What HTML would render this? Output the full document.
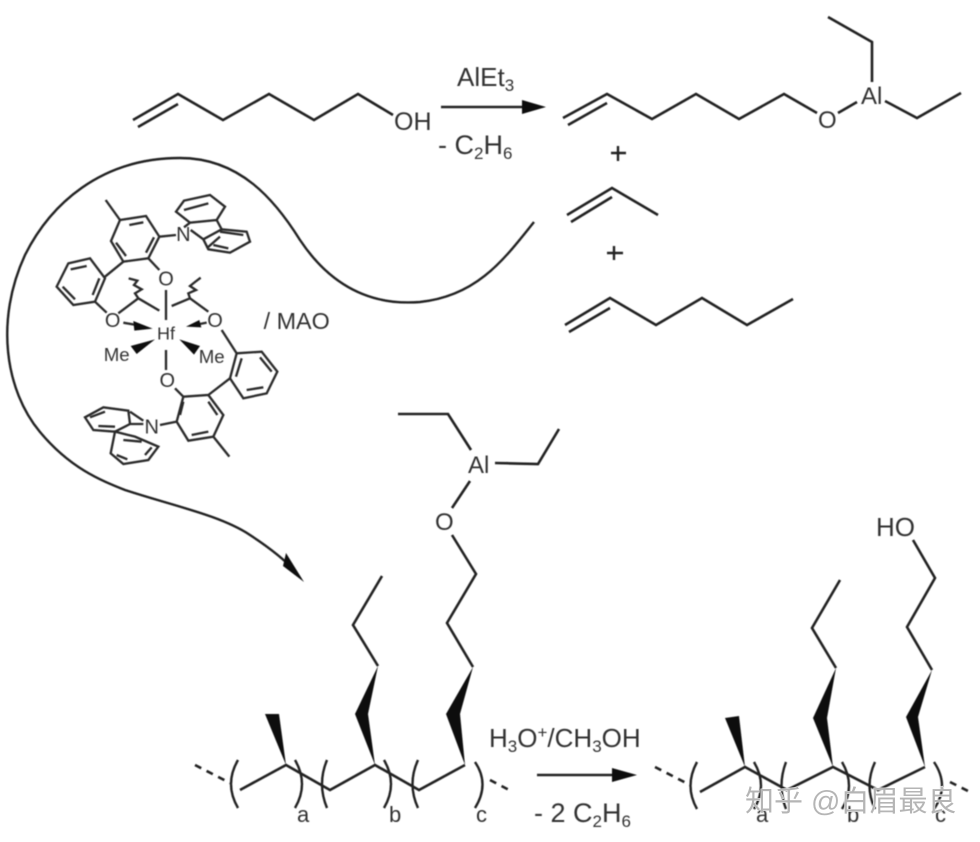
<!DOCTYPE html>
<html><head><meta charset="utf-8"><style>
html,body{margin:0;padding:0;background:#fff}
svg{display:block;font-family:"Liberation Sans",sans-serif}
text{fill:#333}
</style></head><body>
<svg width="980" height="842" viewBox="0 0 980 842" xmlns="http://www.w3.org/2000/svg">
<defs><filter id="b" x="-5%" y="-5%" width="110%" height="110%"><feGaussianBlur stdDeviation="0.5"/></filter></defs>
<rect width="980" height="842" fill="#fff"/>
<g filter="url(#b)">
<g fill="none" stroke="#222" stroke-width="2.6" stroke-linejoin="miter">
<!-- hexenol -->
<path d="M133 120L178 94L223 120L269 94L314 120L358 94L393 115M138 127L178 104"/>
<!-- top product -->
<path d="M563 118L607 94L652 119L696 94L739 119L784 94L817 113M568 125L607 103M838 113L857 102M872 82L872 42L828 17M885 101L917 118L961 93"/>
<!-- propene, hexene -->
<path d="M567 215L612 188L658 215M571 222L612 197"/>
<path d="M565 325L610 298L656 325L702 298L747 325L793 299M569 332L610 308"/>
<!-- arrows -->
<path d="M441 107H522M537 775H615" stroke-width="2.4"/>
<!-- plus -->
<path d="M611 153H626M618 146V161M607 253H623M614 246V260" stroke-width="2.4"/>
<!-- big curve -->
<path d="M534 222C505 258 478 296 420 302C370 306 330 285 300 240C275 200 240 158 180 158C100 158 50 205 25 255C-5 320 5 390 40 432C70 468 100 480 125 490C170 505 220 515 250 535C270 548 285 560 296 572" stroke-width="2.4"/>
<!-- polymer 1 -->
<path d="M240 790L286 765L330 790L375 765L419 790L465 765"/>
<path d="M378 666L353 625L382 576M473 667L447 623L476 574L452 535M470 481L452 508M471 450L448 414H398M495 463L538 464L559 429"/>
<path d="M195 765L230 783M490 780L511 791" stroke-dasharray="7 6"/>
<path d="M238 760Q224 784 238 808M295 760Q309 784 295 808M327 760Q317 784 327 808M384 760Q398 784 384 808M418 760Q407 784 418 808M475 762Q490 784 475 808" stroke-width="2.4"/>
<!-- polymer 2 -->
<path d="M700 792L745 767L787 790L833 767L878 790L925 767"/>
<path d="M836 668L812 628L840 580M932 670L907 627L935 578L913 540"/>
<path d="M655 767L690 785M950 782L970 792" stroke-dasharray="7 6"/>
<path d="M697 762Q684 786 697 809M754 762Q768 786 754 809M786 762Q777 786 786 809M842 762Q856 786 842 809M875 762Q864 786 875 809M934 762Q950 786 934 809" stroke-width="2.4"/>
</g>
<g fill="#111">
<path d="M522 100L546 107L522 114ZM612 768L637 775L612 782Z"/>
<path d="M286 553L304 582L283 566Z"/>
<path d="M286 765L265 714L279 714ZM375 765L355 714L378 666L368 714ZM465 765L446 714L473 667L460 714Z"/>
<path d="M745 767L725 718L739 716ZM833 767L813 718L836 668L827 718ZM925 767L906 717L932 670L918 717Z"/>
</g>
<!-- catalyst -->
<g transform="translate(40,180) scale(.33333)">
<g fill="none" stroke="#2a2a2a" stroke-width="7">
<path d="M240 120L318 108L358 170L325 235L250 245L213 183ZM240 120L197 60M268 135L310 127M342 172L318 218M228 188L258 228M358 170L408 165M325 235L358 270M378 330V420"/>
<path d="M408 95L432 62L510 45L555 80L530 120L450 128ZM432 90L505 70M450 128L432 142M530 120L545 148M452 150L490 178M490 178L545 148L620 155L630 185L570 218L505 208ZM500 205L540 170M520 195L565 205M540 155L610 165"/>
<path d="M150 235L85 250L50 320L100 375L165 365L195 295ZM250 245L195 290M92 268L140 258M68 320L105 358M178 295L158 345M165 365L200 398"/>
<path d="M235 400L295 355L358 392M395 378L450 355L505 395M295 355L285 340L305 328L282 315L292 302L266 295M450 355L445 340L468 330L450 318L465 306L482 293"/>
<path d="M250 428L295 436M500 428L470 434M378 510V570"/>
<path d="M430 650L505 645L550 705L520 770L445 782L410 725ZM405 625L430 650M430 665L420 705M505 665L532 705M455 765L505 755M520 770L568 830M410 725L360 735M505 645L570 595M590 520L665 515L712 575L680 640L610 655L570 595ZM545 450L590 520M588 590L605 535M620 630L670 622M695 575L660 532"/>
<path d="M135 712L190 682L265 692L270 732L225 755L160 750ZM150 712L195 695M175 738L225 740M310 722L270 695M270 732L310 732M225 755L285 770L355 800L325 840L250 852L212 820ZM250 780L305 785M335 802L315 825M230 825L262 838"/>
</g>
<g fill="#111">
<path d="M338 446L280 423L283 452ZM438 440L478 420L484 442Z"/>
<path d="M345 478L272 498L290 522ZM418 478L480 498L462 524Z"/>
</g>
<g font-size="60" text-anchor="middle" style="fill:#333">
<text x="378" y="316">O</text><text x="218" y="441">O</text><text x="525" y="441">O</text><text x="382" y="621">O</text>
<text x="430" y="183">N</text><text x="335" y="761">N</text>
<text x="378" y="478" font-size="54">Hf</text>
<text x="230" y="543" font-size="56">Me</text><text x="515" y="549" font-size="56">Me</text>
<text x="770" y="447" font-size="70">/ MAO</text>
</g>
</g>
<!-- labels -->
<g font-size="24">
<text x="394" y="130" font-size="25">OH</text>
<text x="457" y="86" font-size="26">AlEt<tspan font-size="17" dy="5">3</tspan></text>
<text x="438" y="154" font-size="27">- C<tspan font-size="17" dy="5">2</tspan><tspan dy="-5">H</tspan><tspan font-size="17" dy="5">6</tspan></text>
<text x="818" y="128">O</text><text x="861" y="104">Al</text>
<text x="468" y="473">Al</text><text x="435" y="530">O</text>
<text x="876" y="536" font-size="26">HO</text>
<text x="489" y="747" font-size="26">H<tspan font-size="17" dy="5">3</tspan><tspan dy="-5">O</tspan><tspan font-size="17" dy="-9">+</tspan><tspan dy="9">/CH</tspan><tspan font-size="17" dy="5">3</tspan><tspan dy="-5">OH</tspan></text>
<text x="534" y="822" font-size="27">- 2 C<tspan font-size="17" dy="5">2</tspan><tspan dy="-5">H</tspan><tspan font-size="17" dy="5">6</tspan></text>
<text x="297" y="822" font-size="22">a</text><text x="389" y="822" font-size="22">b</text><text x="476" y="822" font-size="22">c</text>
<text x="756" y="822" font-size="22">a</text><text x="847" y="822" font-size="22">b</text><text x="935" y="822" font-size="22">c</text>
</g>
</g>
<!-- watermark -->
<text x="745" y="811" font-size="29" style="font-family:'Liberation Sans','Noto Sans CJK SC',sans-serif;fill:#b5b5b5;stroke:#fff;stroke-width:.7;paint-order:stroke">知乎 @白眉最良</text>
</svg>
</body></html>
